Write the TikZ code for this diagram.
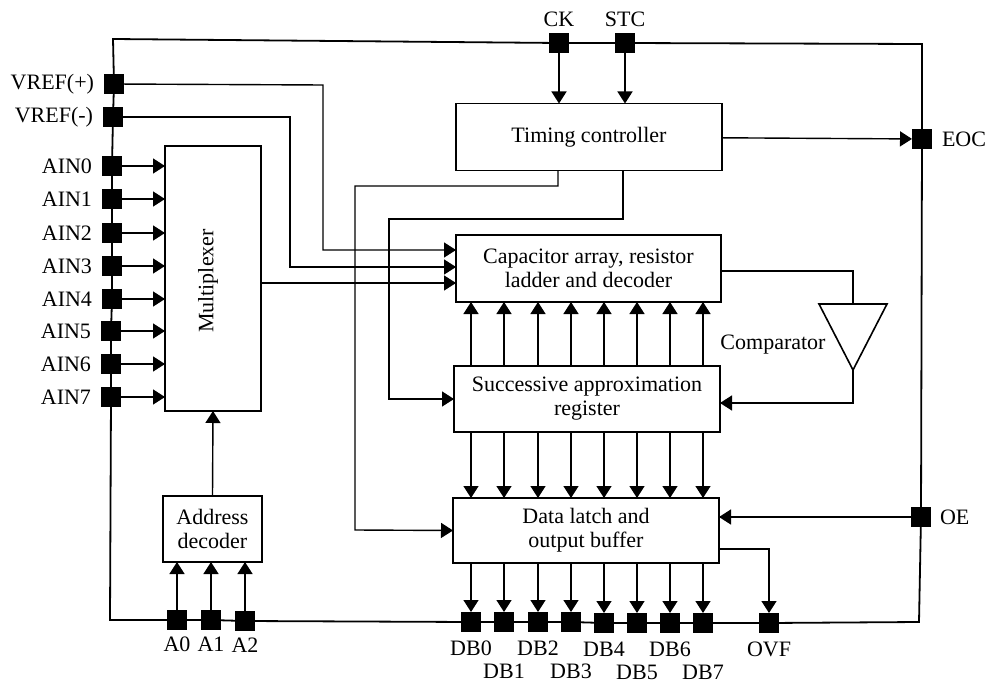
\documentclass[tikz,border=0pt]{standalone}
\usepackage{fontspec}
\setmainfont{Liberation Serif}
\usetikzlibrary{arrows.meta,positioning}

\begin{document}
\begin{tikzpicture} [x=1pt,y=-1pt,font=\fontsize{22}{24}\selectfont,{pin/.style={rectangle,fill=black,minimum size=20pt,inner sep=0pt,outer sep=0pt}},{block/.style={rectangle,draw=black,line width=1.6pt,fill=white,align=center,inner sep=0pt,outer sep=0pt}},{tag/.style={inner sep=0pt,outer sep=0pt}},{wire/.style={line width=1.4pt}},{bus/.style={line width=1.8pt}},{sig/.style={line width=1.4pt,-{Triangle[length=12pt,width=15pt]}}}]
		\useasboundingbox (0,0) rectangle (993,687);
		%%corners of the outer line
		\coordinate (tl) at (113,39);
		\coordinate (tr) at (922,44);
		\coordinate (br) at (919,622);
		\coordinate (bl) at (110,620);

		%%left pins
		\node at (114,84) [pin] (vrefp) {};
		\node at (113,117) [pin] (vrefm) {};
		\node at (112,166) [pin] (ain0) {};
		\node at (112,199) [pin] (ain1) {};
		\node at (112,233) [pin] (ain2) {};
		\node at (112,266) [pin] (ain3) {};
		\node at (112,299) [pin] (ain4) {};
		\node at (111,331) [pin] (ain5) {};
		\node at (111,364) [pin] (ain6) {};
		\node at (111,397) [pin] (ain7) {};
		%%top and right pins
		\node at (559,43) [pin] (ck) {};
		\node at (625,43) [pin] (stc) {};
		\node at (922,139) [pin] (eoc) {};
		\node at (921,517) [pin] (oe) {};
		%%bottom pins
		\node at (177,620) [pin] (a0) {};
		\node at (211,620) [pin] (a1) {};
		\node at (245,621) [pin] (a2) {};
		\node at (471,622) [pin] (db0) {};
		\node at (504,622) [pin] (db1) {};
		\node at (538,622) [pin] (db2) {};
		\node at (571,622) [pin] (db3) {};
		\node at (604,623) [pin] (db4) {};
		\node at (637,623) [pin] (db5) {};
		\node at (670,623) [pin] (db6) {};
		\node at (703,623) [pin] (db7) {};
		\node at (769,623) [pin] (ovf) {};

		%%pin labels
		\node [tag,left=10pt of vrefp] (vrefpt) {VREF(+)};
		\node [tag,left=10pt of vrefm] (vrefmt) {VREF(-)};
		\node [tag,left=10pt of ain0] (ain0t) {AIN0};
		\node [tag,left=10pt of ain1] (ain1t) {AIN1};
		\node [tag,left=10pt of ain2] (ain2t) {AIN2};
		\node [tag,left=10pt of ain3] (ain3t) {AIN3};
		\node [tag,left=10pt of ain4] (ain4t) {AIN4};
		\node [tag,left=10pt of ain5] (ain5t) {AIN5};
		\node [tag,left=10pt of ain6] (ain6t) {AIN6};
		\node [tag,left=10pt of ain7] (ain7t) {AIN7};
		\node [tag,above=6pt of ck] (ckt) {CK};
		\node [tag,above=6pt of stc] (stct) {STC};
		\node [tag,right=10pt of eoc] (eoct) {EOC};
		\node [tag,right=9pt of oe] (oet) {OE};
		\node [tag,below=7pt of a0] (a0t) {A0};
		\node [tag,below=7pt of a1] (a1t) {A1};
		\node [tag,below=7pt of a2] (a2t) {A2};
		\node [tag,below=9pt of db0] (db0t) {DB0};
		\node [tag,below=32pt of db1] (db1t) {DB1};
		\node [tag,below=9pt of db2] (db2t) {DB2};
		\node [tag,below=32pt of db3] (db3t) {DB3};
		\node [tag,below=9pt of db4] (db4t) {DB4};
		\node [tag,below=32pt of db5] (db5t) {DB5};
		\node [tag,below=9pt of db6] (db6t) {DB6};
		\node [tag,below=32pt of db7] (db7t) {DB7};
		\node [tag,below=9pt of ovf] (ovft) {OVF};

		%%blocks
		\node at (589,137) [block,minimum width=266pt,minimum height=67pt] (timing) {Timing controller};
		\node at (588.5,268.5) [block,minimum width=265pt,minimum height=67pt] (cap) {Capacitor array, resistor\\ladder and decoder};
		\node at (587,399) [block,minimum width=266pt,minimum height=66pt] (sar) {Successive approximation\\register};
		\node at (586,530.5) [block,minimum width=266pt,minimum height=65pt] (latch) {Data latch and\\output buffer};
		\node at (213,278.5) [block,minimum width=96pt,minimum height=265pt] (mux) {};
		\node at (208,281) [tag,rotate=90] (muxt) {Multiplexer};
		\node at (212.5,529) [block,minimum width=99pt,minimum height=66pt] (addr) {Address\\decoder};

		%%comparator
		\coordinate (cmpl) at (819,304);
		\coordinate (cmpr) at (887,304);
		\coordinate (cmpa) at (853,370);
		\coordinate (cmpt) at (853,304);
		\coordinate (cmpin) at (853,271);
		\coordinate (cmpout) at (853,403);
		\draw [line width=1.6pt,line join=miter] (cmpl) -- (cmpr) -- (cmpa) -- cycle;
		\node at (773,345) [tag] (cmplabel) {Comparator};

		%%outer line
		\draw [bus] (vrefp) -- (tl) -- (ck);
		\draw [bus] (ck) -- (stc);
		\draw [bus] (stc) -- (tr) -- (eoc);
		\draw [bus] (eoc) -- (oe);
		\draw [bus] (oe) -- (br) -- (ovf);
		\draw [bus] (ovf) -- (db7);
		\draw [bus] (db7) -- (db6);
		\draw [bus] (db6) -- (db5);
		\draw [bus] (db5) -- (db4);
		\draw [bus] (db4) -- (db3);
		\draw [bus] (db3) -- (db2);
		\draw [bus] (db2) -- (db1);
		\draw [bus] (db1) -- (db0);
		\draw [bus] (db0) -- (a2);
		\draw [bus] (a2) -- (a1);
		\draw [bus] (a1) -- (a0);
		\draw [bus] (a0) -- (bl) -- (ain7);
		\draw [bus] (ain7) -- (ain6);
		\draw [bus] (ain6) -- (ain5);
		\draw [bus] (ain5) -- (ain4);
		\draw [bus] (ain4) -- (ain3);
		\draw [bus] (ain3) -- (ain2);
		\draw [bus] (ain2) -- (ain1);
		\draw [bus] (ain1) -- (ain0);
		\draw [bus] (ain0) -- (vrefm);
		\draw [bus] (vrefm) -- (vrefp);

		%%inputs of the multiplexer
		\draw [sig] (ain0) -- (ain0 -| mux.west);
		\draw [sig] (ain1) -- (ain1 -| mux.west);
		\draw [sig] (ain2) -- (ain2 -| mux.west);
		\draw [sig] (ain3) -- (ain3 -| mux.west);
		\draw [sig] (ain4) -- (ain4 -| mux.west);
		\draw [sig] (ain5) -- (ain5 -| mux.west);
		\draw [sig] (ain6) -- (ain6 -| mux.west);
		\draw [sig] (ain7) -- (ain7 -| mux.west);
		\draw [sig] (addr.north) -- (mux.south);
		\draw [sig] (a0) -- (a0 |- addr.south);
		\draw [sig] (a1) -- (a1 |- addr.south);
		\draw [sig] (a2) -- (a2 |- addr.south);

		%%into the capacitor array
		\coordinate (vpa) at (323,85);
		\coordinate (vpb) at (323,250);
		\coordinate (vma) at (290,117);
		\coordinate (vmb) at (290,267);
		\coordinate (muxout) at (261,283);
		\draw [sig] (vrefp) -- (vpa) -- (vpb) -- (vpb -| cap.west);
		\draw [sig] (vrefm) -- (vma) -- (vmb) -- (vmb -| cap.west);
		\draw [sig] (muxout) -- (muxout -| cap.west);

		%%timing controller
		\coordinate (ta) at (558,186);
		\coordinate (tb) at (355,186);
		\coordinate (tc) at (355,530);
		\coordinate (td) at (623,219);
		\coordinate (te) at (389,219);
		\coordinate (tf) at (389,399);
		\draw [sig] (ck) -- (ck |- timing.north);
		\draw [sig] (stc) -- (stc |- timing.north);
		\draw [sig] (timing) -- (eoc);
		\draw [sig] (ta |- timing.south) -- (ta) -- (tb) -- (tc) -- (latch.west);
		\draw [sig] (td |- timing.south) -- (td) -- (te) -- (tf) -- (sar.west);

		%%between the registers
		\draw [sig] (db0 |- sar.north) -- (db0 |- cap.south);
		\draw [sig] (db1 |- sar.north) -- (db1 |- cap.south);
		\draw [sig] (db2 |- sar.north) -- (db2 |- cap.south);
		\draw [sig] (db3 |- sar.north) -- (db3 |- cap.south);
		\draw [sig] (db4 |- sar.north) -- (db4 |- cap.south);
		\draw [sig] (db5 |- sar.north) -- (db5 |- cap.south);
		\draw [sig] (db6 |- sar.north) -- (db6 |- cap.south);
		\draw [sig] (db7 |- sar.north) -- (db7 |- cap.south);
		\draw [sig] (db0 |- sar.south) -- (db0 |- latch.north);
		\draw [sig] (db1 |- sar.south) -- (db1 |- latch.north);
		\draw [sig] (db2 |- sar.south) -- (db2 |- latch.north);
		\draw [sig] (db3 |- sar.south) -- (db3 |- latch.north);
		\draw [sig] (db4 |- sar.south) -- (db4 |- latch.north);
		\draw [sig] (db5 |- sar.south) -- (db5 |- latch.north);
		\draw [sig] (db6 |- sar.south) -- (db6 |- latch.north);
		\draw [sig] (db7 |- sar.south) -- (db7 |- latch.north);

		%%outputs of the data latch
		\draw [sig] (db0 |- latch.south) -- (db0.north);
		\draw [sig] (db1 |- latch.south) -- (db1.north);
		\draw [sig] (db2 |- latch.south) -- (db2.north);
		\draw [sig] (db3 |- latch.south) -- (db3.north);
		\draw [sig] (db4 |- latch.south) -- (db4.north);
		\draw [sig] (db5 |- latch.south) -- (db5.north);
		\draw [sig] (db6 |- latch.south) -- (db6.north);
		\draw [sig] (db7 |- latch.south) -- (db7.north);
		\coordinate (ovfa) at (769,549);
		\draw [sig] (ovfa -| latch.east) -- (ovfa) -- (ovf.north);
		\draw [sig] (oe) -- (oe -| latch.east);

		%%comparator wiring
		\draw [wire] (cmpin -| cap.east) -- (cmpin) -- (cmpt);
		\draw [sig] (cmpa) -- (cmpout) -- (cmpout -| sar.east);
	\end{tikzpicture}
\end{document}
